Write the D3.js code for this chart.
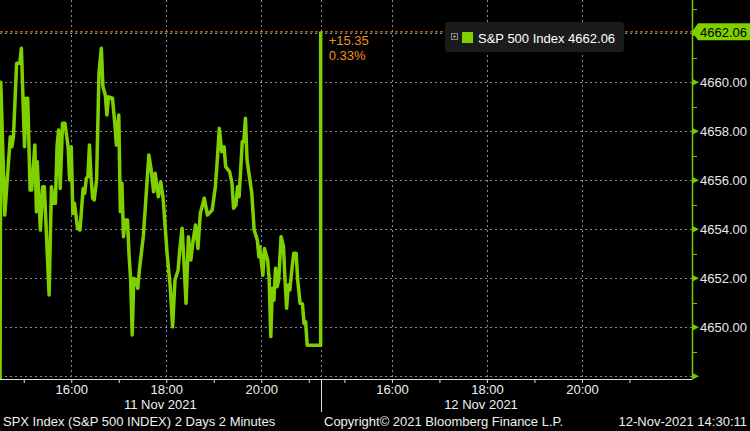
<!DOCTYPE html>
<html>
<head>
<meta charset="utf-8">
<script src="https://cdn.jsdelivr.net/npm/d3@7"></script>
<style>
  html, body { margin: 0; padding: 0; background: #000; }
  svg { display: block; }
  text { font-family: "Liberation Sans", Arial, sans-serif; }
</style>
</head>
<body>
<svg id="chart" width="750" height="431"></svg>
<script>
// ---------------- data ----------------
const dayLabels = ["11 Nov 2021", "12 Nov 2021"];
const sessionStart = "14:30";
const sessionEnd = "21:15";
const prevClose = 4646.71;
const lastPrice = 4662.06;
const lastTime = "14:30";
const changeText = "+15.35";
const changePctText = "0.33%";
const seriesName = "S&P 500 Index";

const day1Times = ["14:31","14:36","14:43","14:45","14:47","14:51","14:55","14:57","15:01","15:03",
"15:05","15:08","15:10","15:14","15:16","15:17","15:21","15:24","15:26","15:32",
"15:35","15:38","15:40","15:42","15:44","15:46","15:49","15:52","15:56","15:58",
"16:00","16:02","16:04","16:08","16:11","16:15","16:17","16:19","16:21","16:23",
"16:25","16:27","16:29","16:32","16:35","16:38","16:40","16:43","16:45","16:47",
"16:52","16:55","16:57","17:00","17:02","17:04","17:06","17:08","17:11","17:13",
"17:15","17:17","17:19","17:22","17:24","17:26","17:31","17:35","17:38","17:41",
"17:44","17:46","17:50","17:53","17:56","18:01","18:05","18:08","18:11","18:15",
"18:17","18:20","18:22","18:25","18:28","18:31","18:34","18:37","18:40","18:43",
"18:48","18:52","18:58","19:02","19:04","19:07","19:10","19:13","19:15","19:20",
"19:23","19:25","19:28","19:30","19:32","19:36","19:38","19:40","19:42","19:48",
"19:51","19:55","19:57","19:58","20:02","20:04","20:08","20:10","20:12","20:14",
"20:16","20:18","20:20","20:22","20:25","20:28","20:30","20:32","20:34","20:36",
"20:39","20:41","20:44","20:46","20:49","20:52","20:54","20:56","20:58","21:15"];

const day1Values = [4660.00,4654.58,4657.78,4657.37,4657.78,4660.78,4660.78,4661.39,4657.37,4659.35,
4659.35,4655.60,4655.60,4657.44,4654.72,4656.76,4653.97,4655.74,4655.74,4651.32,
4655.74,4655.06,4655.06,4657.37,4658.05,4655.67,4658.33,4658.33,4657.37,4656.01,
4657.37,4654.65,4655.06,4654.04,4653.97,4655.67,4655.47,4656.08,4656.15,4657.44,
4656.15,4655.27,4655.20,4656.01,4660.37,4661.39,4659.82,4659.48,4658.67,4659.41,
4659.35,4658.33,4657.44,4658.67,4654.72,4655.88,4653.70,4654.38,4654.38,4652.95,
4651.93,4649.69,4652.00,4651.93,4651.59,4652.34,4653.70,4655.60,4657.03,4656.42,
4655.53,4656.29,4655.33,4655.94,4655.27,4653.02,4651.66,4650.02,4651.93,4652.34,
4653.16,4654.04,4652.88,4650.98,4653.70,4652.75,4653.56,4654.18,4653.22,4654.65,
4655.27,4654.58,4654.79,4655.74,4656.62,4658.12,4657.17,4657.37,4656.56,4656.35,
4655.88,4654.86,4654.99,4655.74,4655.33,4657.58,4657.58,4658.53,4656.83,4655.47,
4653.97,4653.56,4652.88,4653.29,4652.13,4653.22,4652.75,4651.93,4649.62,4651.59,
4651.11,4652.41,4651.66,4651.93,4653.70,4653.29,4651.93,4650.78,4651.73,4651.52,
4652.47,4653.02,4653.02,4651.93,4650.98,4650.95,4650.16,4650.23,4649.27,4649.27];

const yMajorTicks = [4648, 4650, 4652, 4654, 4656, 4658, 4660, 4662];
const yMinorTicks = [4649, 4651, 4653, 4655, 4657, 4659, 4661, 4663];
const yLabelTicks = [4650, 4652, 4654, 4656, 4658, 4660];
const xHourTicks = [15, 16, 17, 18, 19, 20, 21];
const xLabelHours = [16, 18, 20];

const footerLeft = "SPX Index (S&P 500 INDEX) 2 Days 2 Minutes";
const footerMid = "Copyright\u00A9 2021 Bloomberg Finance L.P.";
const footerRight = "12-Nov-2021 14:30:11";

// ---------------- layout ----------------
const W = 750, H = 431;
const plot = { left: 0, right: 692, top: 0, bottom: 379 };
const GREEN = "#80d000";
const AXISGREEN = "#78c800";
const ORANGE = "#f0901e";
const GRID = "#8a8a8a";

const toMin = t => { const [h, m] = t.split(":").map(Number); return h * 60 + m; };
const sessLen = toMin(sessionEnd) - toMin(sessionStart);   // 405
const dayOffset = [0, sessLen];
const sessMin = (day, t) => dayOffset[day] + toMin(t) - toMin(sessionStart);

const x = d3.scaleLinear().domain([0, 874]).range([plot.left, plot.right]);
const y = d3.scaleLinear().domain([4647.89, 4663.36]).range([plot.bottom, plot.top]);

const svg = d3.select("#chart");
svg.append("rect").attr("width", W).attr("height", H).attr("fill", "#000");

svg.append("defs").append("clipPath").attr("id", "clip")
  .append("rect").attr("x", plot.left).attr("y", plot.top)
  .attr("width", plot.right - plot.left).attr("height", plot.bottom - plot.top);

// grid horizontals
svg.append("g").selectAll("line").data(yMajorTicks).join("line")
  .attr("x1", plot.left).attr("x2", plot.right)
  .attr("y1", d => Math.round(y(d)) + 0.5).attr("y2", d => Math.round(y(d)) + 0.5)
  .attr("stroke", GRID).attr("stroke-width", 1).attr("stroke-dasharray", "2,3");

// grid verticals
const vGrid = [];
[0, 1].forEach(day => xLabelHours.forEach(h => vGrid.push(sessMin(day, h + ":00"))));
vGrid.push(sessLen);
svg.append("g").selectAll("line").data(vGrid).join("line")
  .attr("x1", d => Math.round(x(d)) + 0.5).attr("x2", d => Math.round(x(d)) + 0.5)
  .attr("y1", plot.top).attr("y2", plot.bottom)
  .attr("stroke", GRID).attr("stroke-width", 1).attr("stroke-dasharray", "2,3");

// last price line (orange dashed)
svg.append("line")
  .attr("x1", plot.left).attr("x2", plot.right)
  .attr("y1", y(lastPrice)).attr("y2", y(lastPrice))
  .attr("stroke", ORANGE).attr("stroke-width", 1).attr("stroke-dasharray", "3,2");

// price series
const series = [{ m: sessMin(0, sessionStart), v: prevClose }]
  .concat(day1Times.map((t, i) => ({ m: sessMin(0, t), v: day1Values[i] })))
  .concat([{ m: sessMin(1, lastTime), v: lastPrice }]);

const line = d3.line().x(d => x(d.m)).y(d => y(d.v));
svg.append("path").datum(series)
  .attr("clip-path", "url(#clip)")
  .attr("d", line)
  .attr("fill", "none").attr("stroke", GREEN)
  .attr("stroke-width", 3.5).attr("stroke-linejoin", "round");

// change annotation
const annX = x(sessMin(1, lastTime)) + 8;
svg.append("text").attr("x", annX).attr("y", 45).attr("fill", ORANGE)
  .attr("font-size", 13).text(changeText);
svg.append("text").attr("x", annX).attr("y", 60).attr("fill", ORANGE)
  .attr("font-size", 13).text(changePctText);

// legend box
const lg = svg.append("g");
lg.append("rect").attr("x", 445).attr("y", 22).attr("width", 179).attr("height", 30)
  .attr("rx", 3).attr("fill", "#1b1b1b");
lg.append("rect").attr("x", 451.5).attr("y", 33.5).attr("width", 6).attr("height", 6)
  .attr("fill", "none").attr("stroke", "#8a8a8a").attr("stroke-width", 1);
lg.append("line").attr("x1", 453).attr("x2", 456).attr("y1", 36.5).attr("y2", 36.5)
  .attr("stroke", "#8a8a8a");
lg.append("line").attr("x1", 454.5).attr("x2", 454.5).attr("y1", 35).attr("y2", 38)
  .attr("stroke", "#8a8a8a");
lg.append("rect").attr("x", 462).attr("y", 32).attr("width", 11).attr("height", 11)
  .attr("fill", GREEN);
lg.append("text").attr("x", 478).attr("y", 43).attr("fill", "#ffffff")
  .attr("font-size", 13).text(seriesName + " " + lastPrice.toFixed(2));

// y axis
svg.append("line").attr("x1", plot.right + 0.5).attr("x2", plot.right + 0.5)
  .attr("y1", 0).attr("y2", plot.bottom)
  .attr("stroke", AXISGREEN).attr("stroke-width", 1.5);
svg.append("g").selectAll("path").data(yMajorTicks).join("path")
  .attr("d", d => { const yy = y(d); return `M${plot.right},${yy - 3.5}L${plot.right + 7},${yy}L${plot.right},${yy + 3.5}Z`; })
  .attr("fill", AXISGREEN);
svg.append("g").selectAll("line").data(yMinorTicks.filter(d => y(d) > 0)).join("line")
  .attr("x1", plot.right).attr("x2", plot.right + 5)
  .attr("y1", d => Math.round(y(d)) + 0.5).attr("y2", d => Math.round(y(d)) + 0.5)
  .attr("stroke", AXISGREEN).attr("stroke-width", 1);
svg.append("g").selectAll("text").data(yLabelTicks).join("text")
  .attr("x", 700).attr("y", d => y(d)).attr("dy", "0.36em")
  .attr("fill", "#e8e8e8").attr("font-size", 13)
  .text(d => d.toFixed(2));

// last price tag
const ly = y(lastPrice);
svg.append("path")
  .attr("d", `M${plot.right},${ly}L${plot.right + 6},${ly - 8.5}L${W},${ly - 8.5}L${W},${ly + 8.5}L${plot.right + 6},${ly + 8.5}Z`)
  .attr("fill", GREEN);
svg.append("text").attr("x", 700).attr("y", ly).attr("dy", "0.36em")
  .attr("fill", "#000").attr("font-size", 13).text(lastPrice.toFixed(2));

// x axis
const hourTicks = [];
[0, 1].forEach(day => xHourTicks.forEach(h => hourTicks.push({ m: sessMin(day, h + ":00"), h })));
const xAxis = d3.axisBottom(x)
  .tickValues(hourTicks.map(d => d.m))
  .tickSize(4).tickPadding(2)
  .tickFormat((d, i) => xLabelHours.includes(hourTicks[i].h) ? hourTicks[i].h + ":00" : "");
const gx = svg.append("g").attr("transform", `translate(0,${plot.bottom})`).call(xAxis);
gx.select(".domain").attr("stroke", "#e0e0e0").attr("d", `M${plot.left},0.5H${plot.right}`);
gx.selectAll(".tick line").attr("stroke", "#e0e0e0");
gx.selectAll(".tick text").attr("fill", "#f0f0f0").attr("font-size", 13)
  .attr("font-family", "Liberation Sans, Arial, sans-serif");

// day separator below axis
svg.append("line")
  .attr("x1", Math.round(x(sessLen)) + 0.5).attr("x2", Math.round(x(sessLen)) + 0.5)
  .attr("y1", plot.bottom).attr("y2", 412)
  .attr("stroke", "#e0e0e0").attr("stroke-width", 1);

// date labels, centred on each session
svg.append("g").selectAll("text").data(dayLabels).join("text")
  .attr("x", (d, i) => x(dayOffset[i] + sessLen / 2))
  .attr("y", 409).attr("text-anchor", "middle")
  .attr("fill", "#f0f0f0").attr("font-size", 13).text(d => d);

// footer
svg.append("text").attr("x", 3).attr("y", 426).attr("fill", "#f0f0f0")
  .attr("font-size", 13).text(footerLeft);
svg.append("text").attr("x", 324).attr("y", 426).attr("fill", "#f0f0f0")
  .attr("font-size", 13).text(footerMid);
svg.append("text").attr("x", 747).attr("y", 426).attr("text-anchor", "end")
  .attr("fill", "#f0f0f0").attr("font-size", 13).text(footerRight);
</script>
</body>
</html>
